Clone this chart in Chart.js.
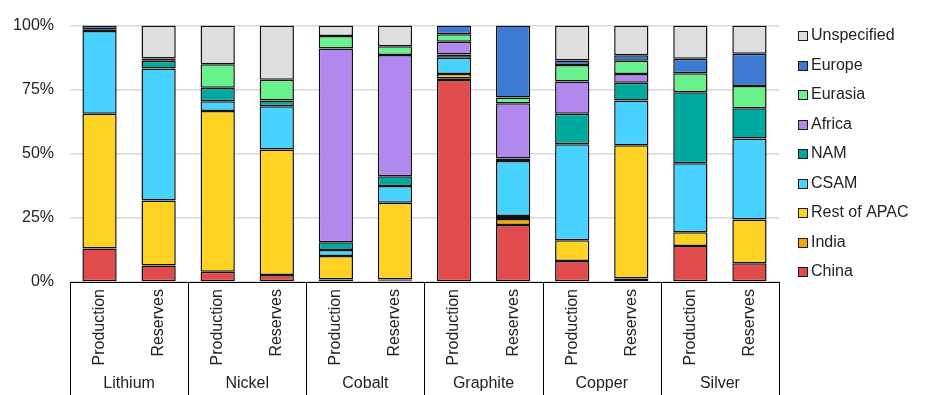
<!DOCTYPE html>
<html>
<head>
<meta charset="utf-8">
<script src="https://cdn.jsdelivr.net/npm/chart.js@4"></script>
<style>
  body { margin: 0; background: #fff; }
  #box { width: 949px; height: 395px; position: relative; }
</style>
</head>
<body>
<div id="box"><canvas id="myChart"></canvas></div>
<script>
// categorias (duas por minério)
const rotulos = ['Production', 'Reserves', 'Production', 'Reserves', 'Production', 'Reserves',
                 'Production', 'Reserves', 'Production', 'Reserves', 'Production', 'Reserves'];
const grupos = ['Lithium', 'Nickel', 'Cobalt', 'Graphite', 'Copper', 'Silver'];
const ticksY = [0, 25, 50, 75, 100];

// valores em %; null = sem fatia
const china       = [13.1,  6.4,  4.0,  2.7,  1.0,  0.7, 78.8, 22.2,  8.2,  1.4, 14.0,  7.3];
const india       = [null, null, null, null, null,  0.3,  0.7,  2.4, null, null, null, null];
const restoApac   = [52.5, 25.4, 62.7, 49.0,  9.1, 29.9,  1.6,  1.1,  8.1, 51.9,  5.4, 17.1];
const csam        = [32.3, 51.5,  3.8, 16.8,  2.4,  6.5,  6.4, 21.5, 37.4, 17.5, 26.9, 31.6];
const nam         = [null,  3.0,  5.3,  2.3,  3.0,  3.8,  1.2,  1.0, 11.9,  6.9, 27.7, 11.8];
const africa      = [ 0.7,  0.9, null, null, 75.6, 47.3,  5.0, 21.5, 12.6,  3.4, null, null];
const eurasia     = [null, null,  9.1,  8.1,  4.8,  3.4,  2.9,  2.3,  6.4,  5.2,  7.4,  8.6];
const europe      = [ 1.4, null, null, null, null, null,  3.4, 28.0,  1.8,  2.1,  5.7, 12.6];
const unspecified = [null, 12.8, 15.1, 21.1,  4.1,  8.1, null, null, 13.6, 11.6, 12.9, 11.0];

const fonte = '"Liberation Sans", Arial, sans-serif';
const corTexto = '#222';

function serie(label, data, cor) {
    return {
        label: label,
        data: data,
        backgroundColor: cor,
        borderColor: '#111',
        borderWidth: 1.5,
        borderSkipped: false,
        barPercentage: 0.58,
        categoryPercentage: 1
    };
}

const dados = {
    labels: rotulos,
    datasets: [
        serie('China', china, '#E24B4B'),
        serie('India', india, '#F2A900'),
        serie('Rest of APAC', restoApac, '#FFD324'),
        serie('CSAM', csam, '#48D2FF'),
        serie('NAM', nam, '#00A99D'),
        serie('Africa', africa, '#B188EE'),
        serie('Eurasia', eurasia, '#68F28D'),
        serie('Europe', europe, '#3D7BD2'),
        serie('Unspecified', unspecified, '#DEDEDE')
    ]
};

// desenha divisórias, nomes dos grupos e a legenda
const extras = {
    id: 'extras',
    afterDraw(chart) {
        const ctx = chart.ctx;
        const x = chart.scales.x;
        const area = chart.chartArea;
        const passo = x.getPixelForValue(1) - x.getPixelForValue(0);
        ctx.save();
        ctx.strokeStyle = '#000';
        ctx.lineWidth = 1;
        for (let i = 0; i <= grupos.length; i++) {
            const px = Math.round(x.getPixelForValue(i * 2) - passo / 2) + 0.5;
            ctx.beginPath();
            ctx.moveTo(px, area.bottom);
            ctx.lineTo(px, chart.height);
            ctx.stroke();
        }
        ctx.fillStyle = corTexto;
        ctx.font = '16px ' + fonte;
        ctx.textAlign = 'center';
        ctx.textBaseline = 'middle';
        for (let i = 0; i < grupos.length; i++) {
            const cx = (x.getPixelForValue(i * 2) + x.getPixelForValue(i * 2 + 1)) / 2;
            ctx.fillText(grupos[i], cx, 383.5);
        }
        // legenda (ordem invertida)
        ctx.textAlign = 'left';
        const ds = chart.data.datasets.slice().reverse();
        ds.forEach(function (d, k) {
            const cy = 36 + k * 29.5;
            ctx.fillStyle = d.backgroundColor;
            ctx.fillRect(798, Math.round(cy - 5), 10, 10);
            ctx.strokeStyle = '#1a1a1a';
            ctx.strokeRect(798.5, Math.round(cy - 5) + 0.5, 9, 9);
            ctx.fillStyle = corTexto;
            ctx.fillText(d.label, 811, cy);
        });
        ctx.restore();
    }
};

const config = {
    type: 'bar',
    data: dados,
    options: {
        responsive: true,
        maintainAspectRatio: false,
        animation: false,
        layout: { padding: { top: 25, right: 170, left: 0, bottom: 0 } },
        plugins: {
            legend: { display: false },
            tooltip: { enabled: false }
        },
        scales: {
            x: {
                stacked: true,
                grid: { display: false },
                border: { display: true, color: '#000', width: 1 },
                ticks: {
                    color: corTexto,
                    font: { family: fonte, size: 16 },
                    minRotation: 90,
                    maxRotation: 90,
                    padding: -1,
                    autoSkip: false
                },
                afterFit: function (scale) { scale.height = 113; }
            },
            y: {
                stacked: true,
                min: 0,
                max: 100,
                afterBuildTicks: function (scale) {
                    scale.ticks = ticksY.map(v => ({ value: v }));
                },
                grid: { color: '#d9d9d9', lineWidth: 1.5, drawTicks: false },
                border: { display: false },
                ticks: {
                    color: corTexto,
                    font: { family: fonte, size: 16 },
                    padding: 16,
                    callback: v => v + '%'
                },
                afterFit: function (scale) { scale.width = 70; }
            }
        }
    },
    plugins: [extras]
};

const myChart = new Chart(document.getElementById('myChart'), config);
</script>
</body>
</html>
